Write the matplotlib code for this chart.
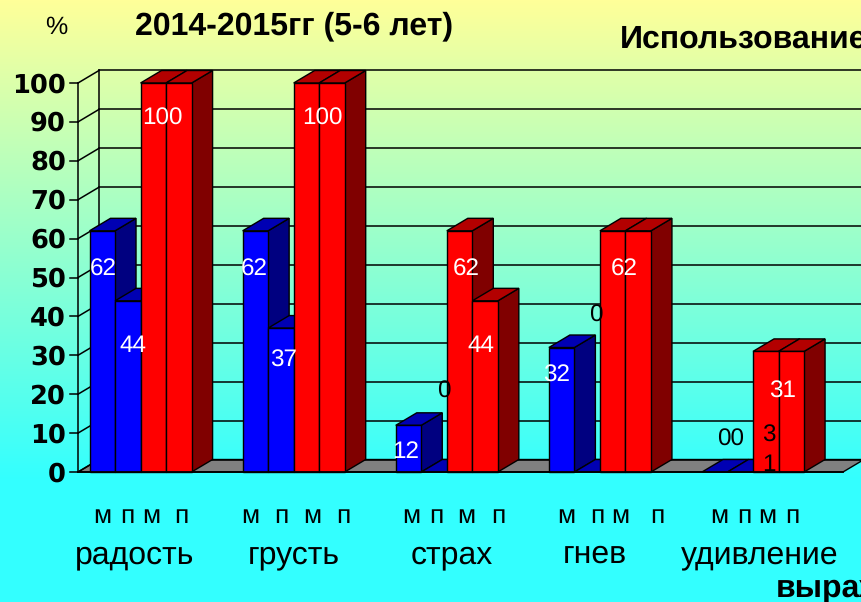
import numpy as np
import matplotlib
matplotlib.use('Agg')
import matplotlib.pyplot as plt
from matplotlib.patches import Polygon

# values: boys/girls pairs, blue then red
categories = ['радость', 'грусть', 'страх', 'гнев', 'удивление']
blue_m = [62, 62, 12, 32, 0]
blue_p = [44, 37, 0, 0, 0]
red_m = [100, 100, 62, 62, 31]
red_p = [100, 100, 44, 62, 31]
yticks = [0, 10, 20, 30, 40, 50, 60, 70, 80, 90, 100]

# text placement, in picture pixels
white_labels = ['62', '44', '100', '62', '37', '100', '12', '62', '44', '32', '62', '31']
white_x = [103, 133, 162, 254, 284, 322, 406, 466, 481, 557, 624, 783]
white_y = [270, 346, 119, 270, 361, 119, 452, 270, 346, 376, 270, 392]
black_labels = ['0', '0', '00', '3', '1']
black_x = [444, 596, 731, 769, 769]
black_y = [392, 316, 440, 436, 465]
sub_labels = ['м', 'п', 'м', 'п'] * 5
sub_x = [102, 127, 151, 181, 250, 281, 312, 343, 411, 436, 466, 498,
         566, 597, 620, 657, 719, 744, 767, 792]
cat_x = [135, 294, 452, 595, 760]

W, H = 861, 602
SLOT = 25.52      # px per bar
UNIT = 3.89       # px per percent
X0, Y0 = 89.5, 472
DX, DY = 21 / SLOT, 12.5 / UNIT  # depth of the 3d effect

fig = plt.figure(figsize=(W / 100, H / 100), dpi=100)
ax = fig.add_axes([0, 0, 1, 1])
ax.set_xlim(-X0 / SLOT, (W - X0) / SLOT)
ax.set_ylim(-(H - Y0) / UNIT, Y0 / UNIT)
ax.axis('off')
plt.rcParams['font.family'] = ['Liberation Sans', 'DejaVu Sans']
plt.rcParams['text.hinting'] = 'none'


def px(x, y):
    return (x / W, 1 - y / H)


# background gradient, yellow on top going to cyan
grad = np.linspace(0, 1, 480)
grad = np.concatenate([grad, np.ones(H - 480)])
top = np.array([1, 1, 0.6])
bot = np.array([0.2, 1, 1])
img = top[None, None, :] * (1 - grad[:, None, None]) + bot[None, None, :] * grad[:, None, None]
ax.imshow(img, extent=(ax.get_xlim()[0], ax.get_xlim()[1], ax.get_ylim()[0], ax.get_ylim()[1]),
          aspect='auto', zorder=0)

left = -(X0 - 78) / SLOT
right = (843 - X0) / SLOT
ymax = max(yticks)

# floor
ax.add_patch(Polygon([(left, 0), (right, 0), (right + DX, DY), (left + DX, DY)],
                     facecolor='#808080', edgecolor='black', lw=1, zorder=1))

# walls and grid
for v in yticks:
    ax.plot([left + DX, right + DX * 2], [v + DY, v + DY], color='black', lw=1.1, zorder=1)
    ax.plot([left, left + DX], [v, v + DY], color='black', lw=1.1, zorder=1)
    ax.plot([left - 8 / SLOT, left], [v, v], color='black', lw=1.1, zorder=1)
    ax.text(*px(66, Y0 - v * UNIT + 2), str(v), transform=fig.transFigure, ha='right', va='center',
            fontsize=18.5, fontweight='bold', family='DejaVu Sans', color='black', zorder=5)
ax.plot([left, left], [0, ymax], color='black', lw=1.1, zorder=1)
ax.plot([left + DX, left + DX], [DY, ymax + DY], color='black', lw=1.1, zorder=1)
ax.plot([left, right], [0, 0], color='black', lw=1.3, zorder=3)


def bar3d(x, v, front, roof, side):
    # left to right drawing order makes the next bar hide this ones side
    if v > 0:
        ax.add_patch(Polygon([(x + 1, 0), (x + 1 + DX, DY), (x + 1 + DX, v + DY), (x + 1, v)],
                             facecolor=side, edgecolor='black', lw=1, zorder=2))
    ax.add_patch(Polygon([(x, v), (x + 1, v), (x + 1 + DX, v + DY), (x + DX, v + DY)],
                         facecolor=roof, edgecolor='black', lw=1, zorder=2))
    if v > 0:
        ax.add_patch(Polygon([(x, 0), (x + 1, 0), (x + 1, v), (x, v)],
                             facecolor=front, edgecolor='black', lw=1, zorder=2))


for g in range(len(categories)):
    x = 6 * g
    bar3d(x, blue_m[g], '#0000ff', '#0000b3', '#000080')
    bar3d(x + 1, blue_p[g], '#0000ff', '#0000b3', '#000080')
    bar3d(x + 2, red_m[g], '#ff0000', '#b30000', '#800000')
    bar3d(x + 3, red_p[g], '#ff0000', '#b30000', '#800000')

for t, x, y in zip(white_labels, white_x, white_y):
    ax.text(*px(x, y), t, transform=fig.transFigure, color='white', fontsize=17.5,
            ha='center', va='center', zorder=6)
for t, x, y in zip(black_labels, black_x, black_y):
    ax.text(*px(x, y), t, transform=fig.transFigure, color='black', fontsize=17.5,
            ha='center', va='center', zorder=6)
for t, x in zip(sub_labels, sub_x):
    ax.text(*px(x, 523), t, transform=fig.transFigure, color='black', fontsize=19,
            ha='center', va='baseline', zorder=6)
for t, x in zip(categories, cat_x):
    ax.text(*px(x, 563), t, transform=fig.transFigure, color='black', fontsize=23,
            ha='center', va='baseline', zorder=6)

ax.text(*px(56, 27), '%', transform=fig.transFigure, fontsize=18, ha='center', va='center')
ax.text(*px(135, 26), '2014-2015гг (5-6 лет)', transform=fig.transFigure, fontsize=23,
        fontweight='bold', ha='left', va='center')
ax.text(*px(620, 39), 'Использование', transform=fig.transFigure, fontsize=23,
        fontweight='bold', ha='left', va='center')
ax.text(*px(776, 588), 'выражения', transform=fig.transFigure, fontsize=23,
        fontweight='bold', ha='left', va='center')

fig.savefig('out.png', dpi=100)
